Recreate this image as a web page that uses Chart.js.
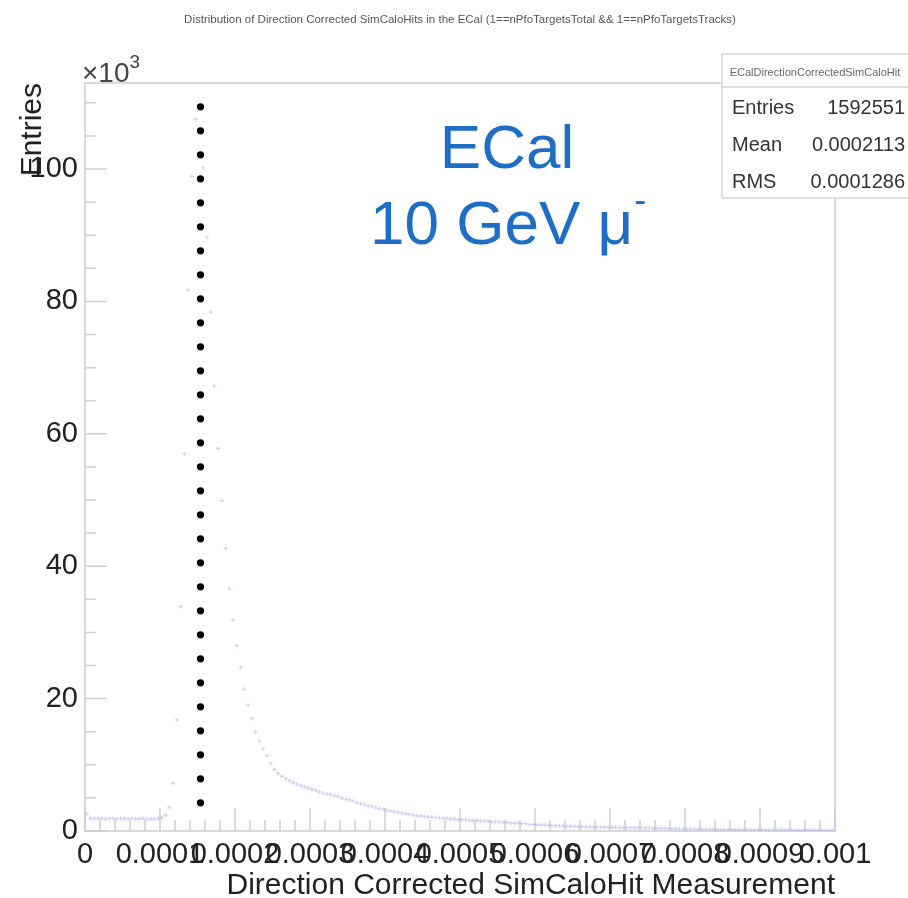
<!DOCTYPE html>
<html>
<head>
<meta charset="utf-8">
<title>ECal direction corrected SimCaloHits</title>
<script src="https://cdn.jsdelivr.net/npm/chart.js@4.4.1/dist/chart.umd.min.js"></script>
<style>
  html, body { margin: 0; padding: 0; background: #fff; }
  #wrap { position: relative; width: 908px; height: 898px; }
</style>
</head>
<body>
<div id="wrap"><canvas id="hist" width="908" height="898"></canvas></div>
<script>
// -------------------------------
// Histogram data (entries in units of 10^3)
// -------------------------------
const X_MIN = 0;
const X_MAX = 0.001;
const BIN_WIDTH = 0.000005; // 200 bins

const entries = [
  2.6, 1.9, 1.9, 1.9, 1.9, 1.8, 1.9, 1.9, 1.8, 1.9,
  1.9, 1.8, 1.9, 1.8, 1.8, 1.9, 1.8, 1.8, 1.8, 1.9,
  2.0, 2.4, 3.6, 7.2, 16.8, 33.9, 57.0, 81.7, 98.9, 107.5,
  106.0, 100.2, 89.7, 78.4, 67.2, 57.8, 49.9, 42.7, 36.6, 31.9,
  28.0, 24.7, 21.4, 19.0, 17.0, 15.0, 13.6, 12.4, 11.4, 10.2,
  9.3, 8.7, 8.3, 7.9, 7.6, 7.3, 7.1, 6.9, 6.7, 6.5,
  6.3, 6.1, 5.9, 5.7, 5.6, 5.5, 5.3, 5.2, 5.0, 4.8,
  4.7, 4.5, 4.3, 4.1, 4.0, 3.8, 3.7, 3.5, 3.4, 3.3,
  3.1, 3.0, 2.9, 2.8, 2.7, 2.6, 2.5, 2.4, 2.3, 2.3,
  2.2, 2.1, 2.1, 2.0, 2.0, 1.9, 1.9, 1.8, 1.8, 1.7,
  1.7, 1.7, 1.6, 1.6, 1.6, 1.5, 1.5, 1.5, 1.4, 1.4,
  1.4, 1.3, 1.3, 1.2, 1.2, 1.2, 1.1, 1.1, 1.0, 1.0,
  0.95, 0.9, 0.9, 0.85, 0.8, 0.8, 0.75, 0.75, 0.7, 0.7,
  0.7, 0.65, 0.65, 0.65, 0.6, 0.6, 0.6, 0.6, 0.55, 0.55,
  0.55, 0.55, 0.5, 0.5, 0.5, 0.5, 0.5, 0.5, 0.45, 0.45,
  0.45, 0.4, 0.4, 0.4, 0.4, 0.35, 0.35, 0.35, 0.3, 0.3,
  0.3, 0.3, 0.3, 0.25, 0.25, 0.25, 0.25, 0.25, 0.2, 0.2,
  0.2, 0.2, 0.2, 0.2, 0.2, 0.18, 0.18, 0.18, 0.17, 0.17,
  0.16, 0.16, 0.15, 0.15, 0.15, 0.15, 0.14, 0.14, 0.14, 0.13,
  0.13, 0.13, 0.12, 0.12, 0.12, 0.12, 0.11, 0.11, 0.11, 0.1
];

// Vertical dotted marker line
const cutX = [0.000154, 0.000154];
const cutY = [109.4, 4.15];

// Axis ranges / ticks
const Y_MAX = 113;
const Y_MAJOR = 20;
const Y_MINOR = 5;
const X_MAJOR = 0.0001;
const X_MINOR = 0.00002;

// Stats box
const statsName = "ECalDirectionCorrectedSimCaloHit";
const statsLabels = ["Entries", "Mean", "RMS"];
const statsValues = ["1592551", "0.0002113", "0.0001286"];

const plotTitle =
  "Distribution of Direction Corrected SimCaloHits in the ECal (1==nPfoTargetsTotal && 1==nPfoTargetsTracks)";

const FONT = "'Liberation Sans', Arial, Helvetica, sans-serif";

// -------------------------------
// Decorations (ROOT style frame, inward ticks, texts)
// -------------------------------
const rootDecor = {
  id: "rootDecor",
  beforeDatasetsDraw(chart) {
    const { ctx, chartArea: a, scales } = chart;
    const x = scales.x, y = scales.y;
    ctx.save();
    ctx.strokeStyle = "#dadada";
    ctx.lineWidth = 2;
    ctx.strokeRect(a.left, a.top, a.right - a.left, a.bottom - a.top);

    ctx.strokeStyle = "#d0d0d0";
    ctx.lineWidth = 1.5;
    ctx.beginPath();
    for (let k = 0; k * Y_MINOR <= Y_MAX; k++) {
      const py = y.getPixelForValue(k * Y_MINOR);
      const len = (k * Y_MINOR) % Y_MAJOR === 0 ? 22 : 11;
      ctx.moveTo(a.left, py);
      ctx.lineTo(a.left + len, py);
    }
    const nx = Math.round((X_MAX - X_MIN) / X_MINOR);
    const per = Math.round(X_MAJOR / X_MINOR);
    for (let k = 0; k <= nx; k++) {
      const px = x.getPixelForValue(X_MIN + k * X_MINOR);
      const len = k % per === 0 ? 23 : 11;
      ctx.moveTo(px, a.bottom);
      ctx.lineTo(px, a.bottom - len);
    }
    ctx.stroke();
    ctx.restore();
  },
  afterDraw(chart) {
    const { ctx } = chart;
    ctx.save();

    // title
    ctx.fillStyle = "#555";
    ctx.font = `11.5px ${FONT}`;
    ctx.textAlign = "center";
    ctx.textBaseline = "middle";
    ctx.fillText(plotTitle, 460, 20);

    // x10^3
    ctx.fillStyle = "#444";
    ctx.textAlign = "left";
    ctx.textBaseline = "alphabetic";
    ctx.font = `28px ${FONT}`;
    ctx.fillText("\u00d710", 82, 82);
    const w = ctx.measureText("\u00d710").width;
    ctx.font = `19px ${FONT}`;
    ctx.fillText("3", 82 + w, 68);

    // stats box
    ctx.fillStyle = "#fff";
    ctx.fillRect(722, 54, 200, 144);
    ctx.strokeStyle = "#d4d4d4";
    ctx.lineWidth = 1.5;
    ctx.strokeRect(722, 54, 200, 144);
    ctx.beginPath();
    ctx.moveTo(722, 87);
    ctx.lineTo(908, 87);
    ctx.stroke();
    ctx.fillStyle = "#666";
    ctx.font = `11px ${FONT}`;
    ctx.textAlign = "center";
    ctx.textBaseline = "middle";
    ctx.fillText(statsName, 815, 73);
    ctx.fillStyle = "#333";
    ctx.font = `20px ${FONT}`;
    statsLabels.forEach((lab, i) => {
      const ty = 108 + i * 37;
      ctx.textAlign = "left";
      ctx.fillText(lab, 732, ty);
      ctx.textAlign = "right";
      ctx.fillText(statsValues[i], 905, ty);
    });

    // annotation
    ctx.fillStyle = "#1e6ec6";
    ctx.textAlign = "center";
    ctx.textBaseline = "alphabetic";
    ctx.font = `62px ${FONT}`;
    ctx.fillText("ECal", 507, 168);
    ctx.textAlign = "left";
    ctx.fillText("10 GeV \u03bc", 370, 244);
    const w2 = ctx.measureText("10 GeV \u03bc").width;
    ctx.font = `36px ${FONT}`;
    ctx.fillText("-", 370 + w2 + 1, 212);

    ctx.restore();
  },
};

// -------------------------------
// Build chart
// -------------------------------
const histPoints = entries.map((v, i) => ({ x: X_MIN + (i + 0.5) * BIN_WIDTH, y: v }));
const cutPoints = cutX.map((v, i) => ({ x: v, y: cutY[i] }));

function fmtX(v) {
  if (Math.abs(v) < 1e-12) return "0";
  return String(Number(v.toPrecision(6)));
}

new Chart(document.getElementById("hist"), {
  type: "scatter",
  data: {
    datasets: [
      {
        label: "cut",
        data: cutPoints,
        showLine: true,
        borderColor: "#000",
        borderWidth: 7.3,
        borderDash: [0, 24],
        borderCapStyle: "round",
        pointRadius: 0,
      },
      {
        label: "ECalDirectionCorrectedSimCaloHit",
        data: histPoints,
        pointStyle: "cross",
        pointRadius: 2,
        borderWidth: 1.2,
        borderColor: "rgba(150,150,230,0.45)",
        backgroundColor: "rgba(150,150,230,0.45)",
      },
    ],
  },
  options: {
    responsive: false,
    animation: false,
    events: [],
    layout: { padding: { left: 0, top: 83, right: 73, bottom: 0 } },
    plugins: { legend: { display: false }, tooltip: { enabled: false } },
    scales: {
      x: {
        type: "linear",
        min: X_MIN,
        max: X_MAX,
        afterFit: (s) => { s.height = 67; },
        grid: { display: false, drawTicks: false },
        border: { display: false },
        ticks: {
          stepSize: X_MAJOR,
          includeBounds: false,
          autoSkip: false,
          maxRotation: 0,
          padding: 7,
          color: "#222",
          font: { family: FONT, size: 29 },
          callback: (v) => fmtX(v),
        },
        title: {
          display: true,
          text: "Direction Corrected SimCaloHit Measurement",
          align: "end",
          color: "#222",
          padding: { top: 0, bottom: 0 },
          font: { family: FONT, size: 30, lineHeight: 0.8 },
        },
      },
      y: {
        type: "linear",
        min: 0,
        max: Y_MAX,
        afterFit: (s) => { s.width = 85; },
        grid: { display: false, drawTicks: false },
        border: { display: false },
        ticks: {
          stepSize: Y_MAJOR,
          includeBounds: false,
          autoSkip: false,
          padding: 7,
          color: "#222",
          font: { family: FONT, size: 29 },
        },
        title: {
          display: true,
          text: "Entries",
          align: "end",
          color: "#222",
          padding: { top: 15, bottom: 0 },
          font: { family: FONT, size: 30, lineHeight: 1.2 },
        },
      },
    },
  },
  plugins: [rootDecor],
});
</script>
</body>
</html>
